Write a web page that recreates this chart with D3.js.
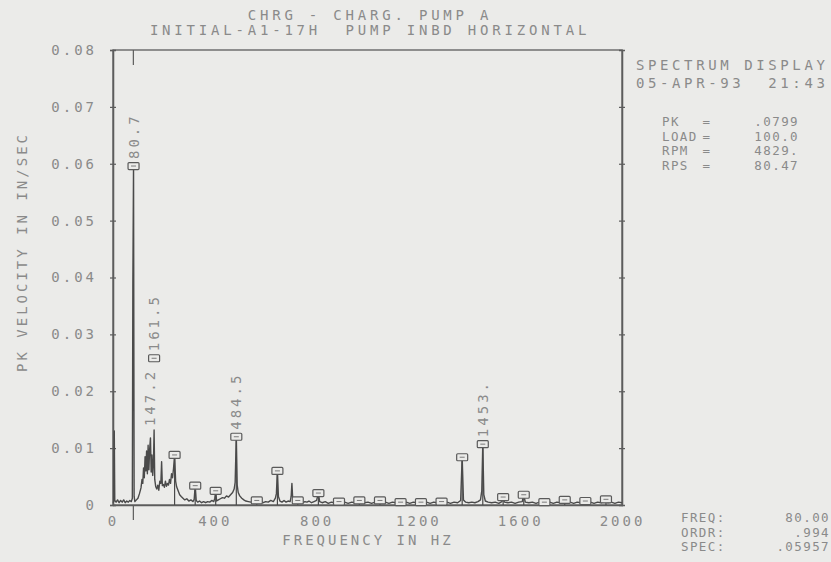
<!DOCTYPE html>
<html>
<head>
<meta charset="utf-8">
<script src="https://cdn.jsdelivr.net/npm/d3@7"></script>
<style>
  body { margin: 0; background: #ebebe9; }
  svg { display: block; background: #ebebe9; }
  text { font-family: "DejaVu Sans Mono", monospace; font-size: 14px; fill: #8a8a8a; letter-spacing: 3px; white-space: pre; }
  text.info { font-size: 12.5px; letter-spacing: 1.4px; }
</style>
</head>
<body>
<div id="chart"></div>
<script>
// spectrum trace, [freq Hz, amplitude in/sec]
var spectrum = [
  [0,0.0004],[3,0.0006],[5,0.013],[7,0.0008],[12,0.0005],[18,0.0009],[24,0.0004],[30,0.0008],
  [36,0.0005],[42,0.0009],[48,0.0004],[54,0.0007],[60,0.0005],[66,0.0008],[72,0.0006],[76,0.0012],
  [78,0.039],[80.7,0.0596],[83,0.0015],[86,0.0006],[92,0.0009],[98,0.0012],[104,0.002],[110,0.003],
  [114,0.0045],[117,0.0038],[120,0.0065],[123,0.0048],[126,0.0085],[129,0.006],[132,0.0095],[135,0.0055],
  [138,0.0105],[141,0.0062],[144,0.0098],[147.2,0.0118],[150,0.0058],[153,0.0088],[156,0.0052],[159,0.0075],
  [161.5,0.0132],[164,0.0045],[168,0.0032],[172,0.0028],[176,0.0035],[180,0.0026],[184,0.0042],[188,0.0038],
  [191,0.0076],[194,0.0034],[198,0.0036],[202,0.0031],[206,0.0042],[210,0.0033],[214,0.0038],[218,0.0035],
  [222,0.0045],[226,0.0038],[230,0.0055],[234,0.0048],[238,0.0065],[242,0.0088],[246,0.0042],[250,0.0032],
  [256,0.0025],[262,0.0018],[268,0.0015],[275,0.0012],[282,0.0009],[290,0.0011],[298,0.0007],[306,0.0009],
  [314,0.0006],[319,0.001],[323,0.0034],[327,0.0008],[333,0.0005],[340,0.0007],[348,0.0004],[356,0.0006],
  [364,0.0004],[372,0.0006],[380,0.0005],[388,0.0008],[396,0.0006],[400,0.0012],[403.5,0.0025],[407,0.0007],
  [414,0.0009],[422,0.0011],[430,0.0013],[438,0.0012],[446,0.0016],[454,0.0014],[462,0.0018],[470,0.0022],
  [476,0.0028],[480,0.004],[484.5,0.012],[488,0.0035],[492,0.0022],[498,0.0016],[506,0.0012],[514,0.0009],
  [522,0.0007],[532,0.0006],[542,0.0005],[552,0.0007],[560,0.0004],[565,0.0008],[570,0.0003],[580,0.0007],
  [590,0.0004],[600,0.0006],[610,0.0005],[620,0.0008],[630,0.0006],[638,0.0012],[642,0.002],[646,0.006],
  [650,0.0015],[656,0.0007],[664,0.0005],[672,0.0008],[680,0.0005],[688,0.0007],[696,0.0006],[700,0.0015],
  [703,0.0038],[706,0.0012],[712,0.0006],[720,0.0008],[726,0.0012],[730,0.0005],[738,0.0007],[746,0.0004],
  [754,0.0006],[762,0.0005],[770,0.0007],[780,0.0004],[790,0.0006],[800,0.0008],[807,0.0021],[812,0.0006],
  [822,0.0004],[834,0.0006],[846,0.0003],[858,0.0005],[870,0.0004],[882,0.0006],[888,0.0007],[896,0.0004],
  [910,0.0005],[924,0.0003],[938,0.0005],[952,0.0004],[962,0.0006],[968,0.0009],[974,0.0005],[988,0.0004],
  [1002,0.0005],[1016,0.0003],[1030,0.0005],[1044,0.0004],[1049,0.0009],[1056,0.0004],[1070,0.0005],
  [1084,0.0003],[1098,0.0005],[1112,0.0004],[1124,0.0005],[1130,0.0006],[1138,0.0004],[1152,0.0005],
  [1166,0.0003],[1180,0.0005],[1194,0.0004],[1206,0.0005],[1210,0.0006],[1218,0.0004],[1232,0.0005],
  [1246,0.0003],[1260,0.0005],[1274,0.0004],[1286,0.0005],[1291,0.0007],[1298,0.0004],[1312,0.0005],
  [1326,0.0003],[1340,0.0005],[1354,0.0004],[1366,0.0008],[1372,0.0084],[1377,0.0009],[1386,0.0005],
  [1398,0.0004],[1410,0.0005],[1422,0.0004],[1434,0.0006],[1444,0.0009],[1449,0.0025],[1453,0.0107],
  [1457,0.0018],[1463,0.0007],[1474,0.0005],[1488,0.0004],[1502,0.0005],[1516,0.0003],[1528,0.0006],
  [1533,0.0014],[1538,0.0005],[1552,0.0004],[1566,0.0005],[1580,0.0003],[1594,0.0005],[1608,0.0006],
  [1614,0.0018],[1620,0.0005],[1634,0.0004],[1648,0.0005],[1662,0.0003],[1676,0.0005],[1690,0.0004],
  [1695,0.0006],[1702,0.0004],[1716,0.0005],[1730,0.0003],[1744,0.0005],[1758,0.0004],[1770,0.0006],
  [1775,0.0009],[1782,0.0004],[1796,0.0005],[1810,0.0003],[1824,0.0005],[1838,0.0004],[1850,0.0005],
  [1856,0.0007],[1862,0.0004],[1876,0.0005],[1890,0.0003],[1904,0.0005],[1918,0.0004],[1930,0.0006],
  [1937,0.001],[1944,0.0004],[1958,0.0005],[1972,0.0003],[1986,0.0005],[2000,0.0004]
];

// harmonic marker boxes (orders 3..24 of 80.7 Hz)
var markerFreqs = [242, 323, 403.5, 484.5, 565, 646, 726, 807, 888, 968, 1049, 1130,
                   1210, 1291, 1372, 1453, 1533, 1614, 1695, 1775, 1856, 1937];
var markerAmps  = [0.0088, 0.0034, 0.0025, 0.012, 0.0008, 0.006, 0.0008, 0.0021, 0.0006, 0.0008, 0.0008, 0.0005,
                   0.0005, 0.0006, 0.0084, 0.0107, 0.0014, 0.0018, 0.0005, 0.0009, 0.0007, 0.001];

// labelled peaks
var peakFreqs  = [80.7, 147.2, 161.5, 484.5, 1453];
var peakTexts  = ["80.7", "147.2", "161.5", "484.5", "1453."];
var peakAmps   = [0.0596, 0.0137, 0.0258, 0.012, 0.0107];
var peakBoxes  = [true, false, true, false, false];

var yTicks = [0, 0.01, 0.02, 0.03, 0.04, 0.05, 0.06, 0.07, 0.08];
var xTicks = [0, 400, 800, 1200, 1600, 2000];
var cursorFreq = 80;

var titleLines = ["CHRG - CHARG. PUMP A", "INITIAL-A1-17H  PUMP INBD HORIZONTAL"];
var headerLines = ["SPECTRUM DISPLAY", "05-APR-93  21:43"];
var infoNames = ["PK", "LOAD", "RPM", "RPS"];
var infoValues = [".0799", "100.0", "4829.", "80.47"];
var cursorNames = ["FREQ:", "ORDR:", "SPEC:"];
var cursorValues = ["80.00", ".994", ".05957"];

var w = 831, h = 562;
var plotLeft = 113, plotRight = 622, plotTop = 50, plotBottom = 505;
var lineCol = "#5c5c5c";
var bg = "#ebebe9";

var svg = d3.select("#chart").append("svg").attr("width", w).attr("height", h);

var x = d3.scaleLinear().domain([0, 2000]).range([plotLeft, plotRight]);
var y = d3.scaleLinear().domain([0, 0.08]).range([plotBottom, plotTop]);

//frame
svg.append("rect")
  .attr("x", plotLeft).attr("y", plotTop)
  .attr("width", plotRight - plotLeft).attr("height", plotBottom - plotTop)
  .attr("fill", "none").attr("stroke", lineCol).attr("stroke-width", 1.3);

function yFmt(d) { return d === 0 ? "0" : d3.format(".2f")(d); }

// left axis, ticks crossing the line
svg.append("g").attr("transform", "translate(" + plotLeft + ",0)")
  .call(d3.axisLeft(y).tickValues(yTicks).tickSize(3).tickPadding(13).tickFormat(yFmt));
svg.append("g").attr("transform", "translate(" + plotLeft + ",0)")
  .call(d3.axisRight(y).tickValues(yTicks.slice(1, -1)).tickSize(3).tickFormat(""));
// right axis crosses
svg.append("g").attr("transform", "translate(" + plotRight + ",0)")
  .call(d3.axisRight(y).tickValues(yTicks.slice(1, -1)).tickSize(3).tickFormat(""));
svg.append("g").attr("transform", "translate(" + plotRight + ",0)")
  .call(d3.axisLeft(y).tickValues(yTicks.slice(1, -1)).tickSize(3).tickFormat(""));

svg.append("g").attr("transform", "translate(0," + plotBottom + ")")
  .call(d3.axisBottom(x).tickValues(xTicks).tickSize(0).tickPadding(11).tickFormat(d3.format("d")));

svg.selectAll(".domain").attr("stroke", lineCol).attr("stroke-width", 1.3);
svg.selectAll(".tick line").attr("stroke", lineCol).attr("stroke-width", 1.2);
svg.selectAll(".tick text").attr("fill", "#8a8a8a")
  .style("font-family", "DejaVu Sans Mono, monospace").style("font-size", "14px");

// spectrum trace
svg.append("path")
  .datum(spectrum)
  .attr("fill", "none")
  .attr("stroke", "#4a4a4a")
  .attr("stroke-width", 1.4)
  .attr("stroke-linejoin", "round")
  .attr("d", d3.line().x(function(d) { return x(d[0]); }).y(function(d) { return y(d[1]); }));

// cursor ticks
svg.append("line").attr("x1", x(cursorFreq)).attr("x2", x(cursorFreq))
  .attr("y1", y(0.08)).attr("y2", y(0.08) + 15).attr("stroke", lineCol).attr("stroke-width", 1.2);
svg.append("line").attr("x1", x(cursorFreq)).attr("x2", x(cursorFreq))
  .attr("y1", y(0)).attr("y2", y(0) + 15).attr("stroke", lineCol).attr("stroke-width", 1.2);

function drawBox(f, a, stem) {
  var cx = x(f), cy = y(a);
  if (stem) {
    svg.append("line").attr("x1", cx).attr("x2", cx).attr("y1", cy).attr("y2", y(0))
      .attr("stroke", "#4a4a4a").attr("stroke-width", 1.2);
  }
  svg.append("rect").attr("x", cx - 5.5).attr("y", cy - 3.5).attr("width", 11).attr("height", 7)
    .attr("rx", 1).attr("fill", bg).attr("stroke", "#5a5a5a").attr("stroke-width", 1.2);
  svg.append("line").attr("x1", cx - 2.5).attr("x2", cx + 2.5).attr("y1", cy).attr("y2", cy)
    .attr("stroke", "#7a7a7a").attr("stroke-width", 1);
}

for (var i = 0; i < markerFreqs.length; i++) drawBox(markerFreqs[i], markerAmps[i], true);

for (var j = 0; j < peakFreqs.length; j++) {
  if (peakBoxes[j]) drawBox(peakFreqs[j], peakAmps[j], false);
  var ty = y(peakAmps[j]) - (peakBoxes[j] || j >= 3 ? 7 : 1);
  svg.append("text")
    .attr("transform", "translate(" + (x(peakFreqs[j]) + 5) + "," + ty + ") rotate(-90)")
    .attr("text-anchor", "start")
    .text(peakTexts[j]);
}

// titles
titleLines.forEach(function(t, k) {
  svg.append("text").attr("x", 370).attr("y", 20 + k * 15).attr("text-anchor", "middle")
    .style("letter-spacing", "3.8px").text(t);
});

// axis titles
svg.append("text").attr("x", 368).attr("y", 545).attr("text-anchor", "middle").text("FREQUENCY IN HZ");
svg.append("text").attr("transform", "translate(27,252) rotate(-90)")
  .attr("text-anchor", "middle").text("PK VELOCITY IN IN/SEC");

// right panel
headerLines.forEach(function(t, k) {
  svg.append("text").attr("x", 636).attr("y", 70 + k * 18).style("letter-spacing", "3.6px").text(t);
});
infoNames.forEach(function(t, k) {
  var yy = 126 + k * 14.5;
  svg.append("text").attr("class", "info").attr("x", 662).attr("y", yy).text(t);
  svg.append("text").attr("class", "info").attr("x", 707).attr("y", yy).attr("text-anchor", "middle").text("=");
  svg.append("text").attr("class", "info").attr("x", 799).attr("y", yy).attr("text-anchor", "end").text(infoValues[k]);
});
cursorNames.forEach(function(t, k) {
  var yy = 522 + k * 14.5;
  svg.append("text").attr("class", "info").attr("x", 681).attr("y", yy).text(t);
  svg.append("text").attr("class", "info").attr("x", 830).attr("y", yy).attr("text-anchor", "end").text(cursorValues[k]);
});
</script>
</body>
</html>
